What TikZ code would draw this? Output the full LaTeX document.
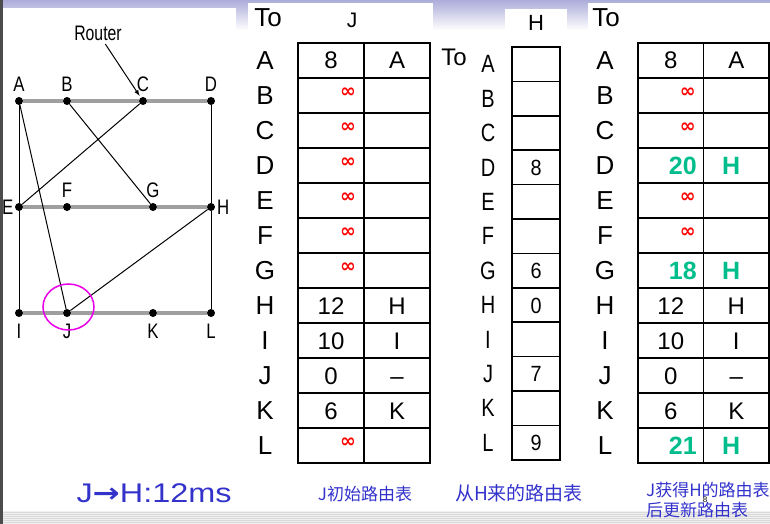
\documentclass[tikz,border=0pt]{standalone}
\usepackage{fontspec}
\setmainfont{Liberation Sans}
\newfontfamily\cjkfont{Noto Sans CJK SC}
\newfontfamily\symfont{DejaVu Sans}
\usepackage{xcolor}
\usetikzlibrary{calc}
\usetikzlibrary{positioning}
\usetikzlibrary{shapes.geometric}

\definecolor{capblue}{RGB}{51,51,204}
\definecolor{newgreen}{RGB}{0,190,140}
\definecolor{ringpink}{RGB}{235,0,235}
\definecolor{bandlav}{RGB}{172,172,218}

\begin{document}
\begin{tikzpicture}[x=1pt,y=-1pt,
		router/.style={circle,fill=black,inner sep=0pt,minimum size=8pt},
		glab/.style={inner sep=1pt,xscale=0.8,font=\fontsize{21}{21}\selectfont},
		trunk/.style={line width=3.5pt,draw=gray!75},
		link/.style={line width=1pt},
		cell/.style={draw,line width=1.5pt,outer sep=0pt,inner sep=0pt,minimum height=35pt},
		rowlab/.style={font=\fontsize{26}{26}\selectfont},
		hlab/.style={xscale=0.8,font=\fontsize{25}{25}\selectfont},
		entry/.style={text height=17pt,text depth=0pt,font=\fontsize{24}{24}\selectfont},
		inf/.style={text=red,font=\symfont\bfseries\fontsize{19}{19}\selectfont},
		upd/.style={text=newgreen,font=\bfseries\fontsize{25}{25}\selectfont},
		captext/.style={text=capblue,align=left}]
			\useasboundingbox (0,0) rectangle (770,524);
			\fill[white] (0,0) rectangle (770,524);
			\shade[top color=bandlav,bottom color=white] (0,0) rectangle (770,30);
			\fill[white] (3,8) rectangle (236,470);
			\fill[white] (248,3) rectangle (433,470);
			\fill[white] (505,9) rectangle (567,40);
			\fill[white] (588,3) rectangle (770,470);
			\fill[gray!12] (0,511) rectangle (770,524);
			\foreach \y in {512,514,...,522}
				\draw[gray!30,line width=0.6pt] (0,\y) -- (770,\y);
			\fill[black!70] (0,0) rectangle (3,524);
			
			\foreach \nd/\x/\y in {A/19/101,B/67/101,C/143/101,D/211/101,E/19/207,F/67/207,G/153/207,H/211/207,I/19/313,J/67/313,K/153/313,L/211/313}
				\node[router] (\nd) at (\x,\y) {};
			\foreach \nd/\p/\d in {A/above/4,B/above/4,C/above/4,D/above/4,F/above/4,G/above/4,E/left/0.5,H/right/1,I/below/6,J/below/6,K/below/6,L/below/6}
				\node[glab,\p=\d pt of \nd] (lab\nd) {\nd};
			
			\draw[trunk] (A) -- (B) (B) -- (C) (C) -- (D);
			\draw[trunk] (E) -- (F) (F) -- (G) (G) -- (H);
			\draw[trunk] (I) -- (J) (J) -- (K) (K) -- (L);
			\draw[link] (A) -- (E) (E) -- (I) (D) -- (H) (H) -- (L);
			\draw[link] (A) -- (J) (B) -- (G) (C) -- (E) (H) -- (J);
			
			\node[glab,xscale=0.94] (router) at (98,33) {Router};
			\draw[-latex, link, shorten <=3pt, shorten >=2pt] (router) -- (C);
			\node[draw=ringpink,line width=1.5pt,ellipse,minimum width=51pt,minimum height=46pt] (ring) at ([shift={(1.5,-6)}]J) {};
			
			\node[rowlab] (jto) at (268,18) {To};
			\node[font=\fontsize{21}{21}\selectfont] (jhead) at (352,20) {J};
			\foreach \rw [count=\i] in {A,...,L} {
				\node[rowlab] (jl\rw) at (265,25.5+35*\i) {\rw};
				\node[cell,minimum width=66pt] (ja\rw) at (331,25.5+35*\i) {};
				\node[cell,minimum width=66pt] (jb\rw) at (397,25.5+35*\i) {};
			}
			\foreach \rw/\dv/\nh in {A/8/A,H/12/H,I/10/I,J/0/\textendash,K/6/K} {
				\node[entry] (jd\rw) at (ja\rw) {\dv};
				\node[entry] (jn\rw) at (jb\rw) {\nh};
			}
			\foreach \rw in {B,C,D,E,F,G,L}
				\node[inf] (ji\rw) at ([shift={(17,-3)}]ja\rw) {∞};
			
			\node[font=\fontsize{24}{24}\selectfont] (hto) at (454,57) {To};
			\node[font=\fontsize{22}{22}\selectfont] (hhead) at (536,23) {H};
			\foreach \rw [count=\i] in {A,...,L} {
				\node[hlab] (hl\rw) at (488,29.8+34.4*\i) {\rw};
				\node[cell,minimum width=48pt,minimum height=34.4pt] (hc\rw) at (536,29.8+34.4*\i) {};
			}
			\foreach \rw/\dv in {D/8,G/6,H/0,J/7,L/9}
				\node[entry,xscale=0.9,font=\fontsize{22}{22}\selectfont,text height=16pt] (hd\rw) at (hc\rw) {\dv};
			
			\node[rowlab] (rto) at (606,18) {To};
			\foreach \rw [count=\i] in {A,...,L} {
				\node[rowlab] (rl\rw) at (605,25.5+35*\i) {\rw};
				\node[cell,minimum width=65.5pt] (ra\rw) at (670.75,25.5+35*\i) {};
				\node[cell,minimum width=65.5pt] (rb\rw) at (736.25,25.5+35*\i) {};
			}
			\foreach \rw/\dv/\nh in {A/8/A,H/12/H,I/10/I,J/0/\textendash,K/6/K} {
				\node[entry] (rd\rw) at (ra\rw) {\dv};
				\node[entry] (rn\rw) at (rb\rw) {\nh};
			}
			\foreach \rw in {B,C,E,F}
				\node[inf] (ri\rw) at ([shift={(17,-3)}]ra\rw) {∞};
			\foreach \rw/\dv in {D/20,G/18,L/21} {
				\node[upd] (rg\rw) at ([xshift=12pt]ra\rw) {\dv};
				\node[upd] (rh\rw) at ([xshift=-5pt]rb\rw) {H};
			}
			
			\node[captext,xscale=1.2,font=\fontsize{27}{27}\selectfont] (delay) at (154,493) {J{\symfont\bfseries →}H:12ms};
			\node[captext,font=\cjkfont\fontsize{17}{20}\selectfont] (capj) at (365,494) {J初始路由表};
			\node[captext,font=\cjkfont\fontsize{19}{22}\selectfont] (caph) at (519,493) {从H来的路由表};
			\node[captext,anchor=west,inner sep=0pt,font=\cjkfont\fontsize{17}{20}\selectfont] (capn) at (646,500) {J获得H的路由表\\后更新路由表};
			\node[font=\fontsize{8}{8}\selectfont,inner sep=0pt] (pgno) at (705,500) {8};
		\end{tikzpicture}
\end{document}
